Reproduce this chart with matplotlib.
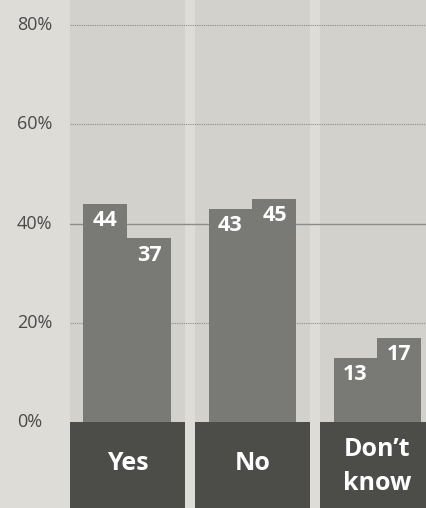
import matplotlib.pyplot as plt
import numpy as np

plt.rcParams['font.family'] = ['Open Sans', 'DejaVu Sans']

categories = ['Yes', 'No', 'Don\u2019t\nknow']
first = [44, 43, 13]
second = [37, 45, 17]
yticks = [0, 20, 40, 60, 80]

bg = '#dedcd7'
panel = '#d2d1cc'
barcol = '#797975'
boxcol = '#4c4c49'
gridcol = '#8c8c89'

fig = plt.figure(figsize=(4.27, 5.08), dpi=100)
fig.patch.set_facecolor(bg)
ax = fig.add_axes([70/427, 0, 1 - 70/427, 1])
ax.set_facecolor(bg)

x = np.arange(len(categories))
w = 0.352
ytop = 422/4.96
ybot = -86/4.96
ax.set_xlim(-0.46, 2.396)
ax.set_ylim(ybot, ytop)

# shaded panels behind each group and dark label boxes below
ax.bar(x, ytop, width=0.92, color=panel, zorder=0)
ax.bar(x, ybot, width=0.92, color=boxcol, zorder=3)

# gridlines
for t in yticks[1:]:
    if t == 40:
        ax.axhline(t, color=gridcol, lw=1.0, zorder=1)
    else:
        ax.axhline(t, color=gridcol, lw=0.8, ls=(0, (1, 1)), zorder=1)

b1 = ax.bar(x - w/2, first, width=w, color=barcol, zorder=2)
b2 = ax.bar(x + w/2, second, width=w, color=barcol, zorder=2)

for bars, vals in [(b1, first), (b2, second)]:
    for b, v in zip(bars, vals):
        ax.annotate(str(v), (b.get_x() + b.get_width()/2, v), xytext=(0, -12),
                    textcoords='offset points', ha='center', va='center',
                    color='white', fontsize=15.5, fontweight='bold', zorder=4)

for xi, c in zip(x, categories):
    ax.text(xi, ybot/2 + (0.4 if '\n' not in c else -0.3), c, ha='center',
            va='center', color='white', fontsize=18, fontweight='bold',
            linespacing=1.45, zorder=4)

for t in yticks:
    fig.text(17/427, 1 - (422 - t*4.96)/508, f'{t}%', ha='left', va='center',
             color='#4a4a48', fontsize=13)

ax.axis('off')
fig.savefig('out.png', dpi=100, facecolor=bg)
